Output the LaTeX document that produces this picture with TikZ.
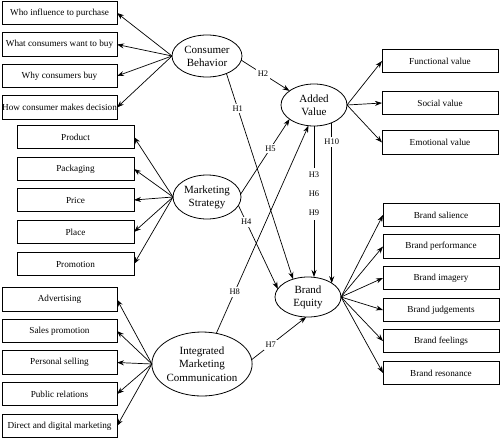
\documentclass[tikz,border=0pt]{standalone}
\usepackage{fontspec}
\setmainfont{Liberation Serif}
\usetikzlibrary{arrows.meta,shapes.geometric}
\begin{document}
\begin{tikzpicture}[x=1pt,y=-1pt,
 box/.style={draw, line width=0.8pt, minimum height=23.5pt, inner sep=0pt, outer sep=0pt, font=\fontsize{9.2}{11}\selectfont},
 lbox/.style={box, minimum width=115pt},
 mbox/.style={box, minimum width=117pt},
 rbox/.style={box, minimum width=116pt},
 ell/.style={draw, ellipse, line width=0.8pt, inner sep=0pt, outer sep=0pt, align=center, font=\fontsize{11}{13}\selectfont},
 arr/.style={-{Stealth[length=7pt,width=5pt]}, line width=0.7pt},
 hyp/.style={fill=white, inner sep=2pt, font=\fontsize{8.5}{10}\selectfont}
]
\useasboundingbox (0,0) rectangle (500,439);

% ellipses
\node[ell, minimum width=70pt, minimum height=42pt] (CB) at (207,56) {Consumer\\Behavior};
\node[ell, minimum width=68pt, minimum height=44pt] (MS) at (207,197) {Marketing\\Strategy};
\node[ell, minimum width=98pt, minimum height=64pt, font=\fontsize{11}{13.5}\selectfont] (IMC) at (202,364) {Integrated\\Marketing\\Communication};
\node[ell, minimum width=66pt, minimum height=42pt] (AV) at (314,105) {Added\\Value};
\node[ell, minimum width=66pt, minimum height=40pt] (BE) at (308,297) {Brand\\Equity};

% consumer behavior boxes
\node[lbox] (c1) at (59.5,13) {Who influence to purchase};
\node[lbox] (c2) at (59.5,44.5) {What consumers want to buy};
\node[lbox] (c3) at (59.5,76) {Why consumers buy};
\node[lbox] (c4) at (59.5,107.5) {How consumer makes decision};

% marketing strategy boxes
\node[mbox] (m1) at (75.5,137) {Product};
\node[mbox] (m2) at (75.5,169) {Packaging};
\node[mbox] (m3) at (75.5,200) {Price};
\node[mbox] (m4) at (75.5,232) {Place};
\node[mbox] (m5) at (75.5,264) {Promotion};

% IMC boxes
\node[lbox] (i1) at (59.5,299.5) {Advertising};
\node[lbox] (i2) at (59.5,331) {Sales promotion};
\node[lbox] (i3) at (59.5,362.5) {Personal selling};
\node[lbox] (i4) at (59.5,394) {Public relations};
\node[lbox] (i5) at (59.5,426) {Direct and digital marketing};

% added value boxes
\node[rbox] (a1) at (440,61) {Functional value};
\node[rbox] (a2) at (440,103) {Social value};
\node[rbox] (a3) at (440,142.5) {Emotional value};

% brand equity boxes
\node[rbox] (b1) at (441,215) {Brand salience};
\node[rbox] (b2) at (441,246.5) {Brand performance};
\node[rbox] (b3) at (441,278) {Brand imagery};
\node[rbox] (b4) at (441,310) {Brand judgements};
\node[rbox] (b5) at (441,341) {Brand feelings};
\node[rbox] (b6) at (441,373) {Brand resonance};

% construct-to-indicator arrows
\foreach \b in {c1,c2,c3,c4} \draw[arr] (CB.west) -- (\b.east);
\foreach \b in {m1,m2,m3,m4,m5} \draw[arr] (MS.west) -- (\b.east);
\foreach \b in {i1,i2,i3,i4,i5} \draw[arr] (IMC.west) -- (\b.east);
\foreach \b in {a1,a2,a3} \draw[arr] (AV.east) -- (\b.west);
\foreach \b in {b1,b2,b3,b4,b5,b6} \draw[arr] (BE.east) -- (\b.west);

% hypotheses
\draw[arr] (CB.-42) -- node[hyp, pos=0.17] {H1} (BE.130);
\draw[arr] (CB.-7) -- node[hyp, pos=0.45] {H2} (AV.150);
\draw[arr] (MS.5) -- node[hyp, pos=0.61] {H5} (AV.-150);
\draw[arr] (MS.-15) -- node[hyp, pos=0.2] {H4} (BE.165);
\draw[arr] (IMC.65) -- node[hyp, pos=0.2] {H8} (AV.-105);
\draw[arr] (IMC.5) -- node[hyp, pos=0.35] {H7} (BE.-95);
\draw[arr] (AV.south) -- node[hyp, pos=0.45, align=center, font=\fontsize{8.5}{19}\selectfont, inner sep=4pt] {H3\\H6\\H9} (AV.south |- BE.north);
\draw[arr] (AV.-45) -- node[hyp, pos=0.12] {H10} (AV.-45 |- BE.30);
\end{tikzpicture}
\end{document}
